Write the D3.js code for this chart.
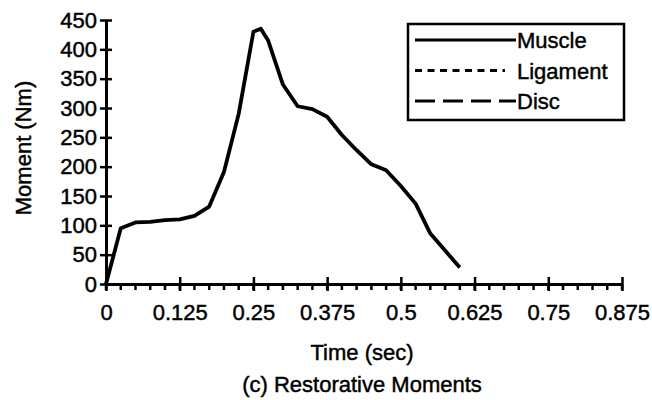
<!DOCTYPE html>
<html lang="en">
<head>
  <meta charset="UTF-8">
  <title>Restorative Moments</title>
  <script src="https://d3js.org/d3.v7.min.js"></script>
  <style>
    body { margin: 0; background: #fff; }
    svg { display: block; font-family: "Liberation Sans", Arial, sans-serif; }
    svg text { stroke: #000; stroke-width: 0.45px; fill: #000; }
  </style>
</head>
<body>
<svg width="652" height="400"></svg>
<script>
  // data
  const times  = [0, 0.025, 0.05, 0.075, 0.1, 0.125, 0.15, 0.175, 0.2, 0.225, 0.25, 0.2625, 0.275,
                  0.3, 0.325, 0.35, 0.375, 0.4, 0.425, 0.45, 0.475, 0.5, 0.525, 0.55, 0.575, 0.6];
  const muscle = [0, 95, 105, 106, 109, 110, 116, 132, 191, 290, 430, 435, 415,
                  340, 303, 298, 285, 254, 228, 204, 194, 167, 137, 86, 57, 28];
  const xTicks = [0, 0.125, 0.25, 0.375, 0.5, 0.625, 0.75, 0.875];
  const xTickLabels = ["0", "0.125", "0.25", "0.375", "0.5", "0.625", "0.75", "0.875"];
  const yTicks = [0, 50, 100, 150, 200, 250, 300, 350, 400, 450];
  const minorStep = 0.025;
  const legendItems = ["Muscle", "Ligament", "Disc"];
  const legendDash = ["none", "7,5.5", "20,8"];

  const svg = d3.select("svg");
  const x = d3.scaleLinear().domain([0, 0.875]).range([106, 622]);
  const y = d3.scaleLinear().domain([0, 450]).range([284, 20]);

  // minor ticks (below the axis only)
  const minors = d3.range(0, 0.875 + 1e-9, minorStep);
  svg.append("g").selectAll("line").data(minors).join("line")
    .attr("x1", d => x(d)).attr("x2", d => x(d))
    .attr("y1", y(0)).attr("y2", y(0) + 6)
    .attr("stroke", "#000").attr("stroke-width", 2.5);

  // x axis
  const xAxis = svg.append("g")
    .attr("transform", `translate(0,${y(0)})`)
    .call(d3.axisBottom(x).tickValues(xTicks).tickFormat((d, i) => xTickLabels[i]).tickSizeInner(7).tickSizeOuter(0).tickPadding(13));
  xAxis.select(".domain").attr("stroke-width", 3);
  xAxis.selectAll(".tick line").attr("y1", -7).attr("stroke-width", 2.5);
  xAxis.selectAll("text").attr("font-size", 22);

  // y axis
  const yAxis = svg.append("g")
    .attr("transform", `translate(${x(0)},0)`)
    .call(d3.axisLeft(y).tickValues(yTicks).tickSizeInner(6).tickSizeOuter(0).tickPadding(3));
  yAxis.select(".domain").attr("stroke-width", 3);
  yAxis.selectAll(".tick line").attr("x1", -6).attr("x2", 6).attr("stroke-width", 2.5);
  yAxis.selectAll("text").attr("font-size", 22);

  // muscle line
  const pts = times.map((t, i) => [t, muscle[i]]);
  svg.append("path")
    .datum(pts)
    .attr("fill", "none")
    .attr("stroke", "#000")
    .attr("stroke-width", 3.8)
    .attr("stroke-linejoin", "round")
    .attr("d", d3.line().x(d => x(d[0])).y(d => y(d[1])));

  // axis titles
  svg.append("text")
    .attr("x", 362).attr("y", 360)
    .attr("text-anchor", "middle").attr("font-size", 22)
    .text("Time (sec)");
  svg.append("text")
    .attr("x", 362).attr("y", 392)
    .attr("text-anchor", "middle").attr("font-size", 22)
    .text("(c) Restorative Moments");
  svg.append("text")
    .attr("transform", "translate(31,148) rotate(-90)")
    .attr("text-anchor", "middle").attr("font-size", 22)
    .text("Moment (Nm)");

  // legend
  const lg = svg.append("g");
  lg.append("rect")
    .attr("x", 408).attr("y", 24).attr("width", 216).attr("height", 96)
    .attr("fill", "#fff").attr("stroke", "#000").attr("stroke-width", 2.5);
  legendItems.forEach((name, i) => {
    const ly = 40 + i * 30.5;
    lg.append("line")
      .attr("x1", 415).attr("x2", i === 1 ? 505 : 516).attr("y1", ly).attr("y2", ly)
      .attr("stroke", "#000").attr("stroke-width", 3)
      .attr("stroke-dasharray", legendDash[i]);
    lg.append("text")
      .attr("x", 517).attr("y", ly + 8)
      .attr("font-size", 22)
      .text(name);
  });
</script>
</body>
</html>
